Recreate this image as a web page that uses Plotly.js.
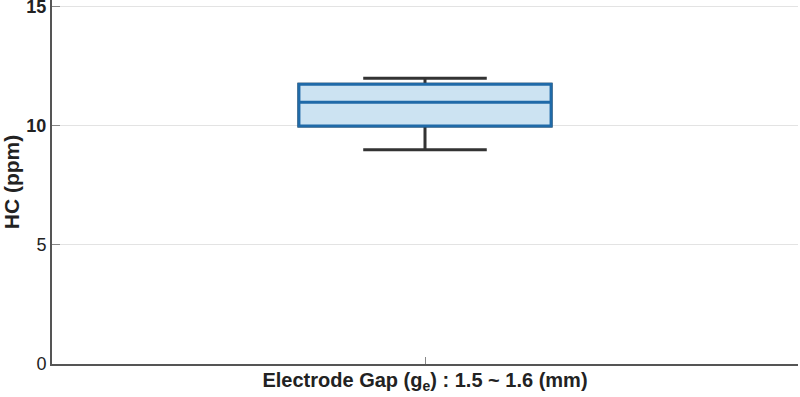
<!DOCTYPE html>
<html>
<head>
<meta charset="utf-8">
<script src="https://cdn.plot.ly/plotly-3.0.1.min.js"></script>
<style>html,body{margin:0;padding:0;background:#fff;}#chart{width:800px;height:397px;}</style>
</head>
<body>
<div id="chart"></div>
<script>
// Data
var category = ["1.5 ~ 1.6 mm"];
var lowerWhisker = [9];
var q1 = [10];
var median = [11];
var q3 = [11.75];
var upperWhisker = [12];
var yTickVals = [0, 5, 10, 15];
var yTickText = ["0", "5", "<b>10</b>", "<b>15</b>"];

var whiskers = {
  type: "box",
  x: [0],
  q1: q1, median: median, q3: q3,
  lowerfence: lowerWhisker, upperfence: upperWhisker,
  width: 0.338,
  whiskerwidth: 0.49,
  line: {color: "#333333", width: 3},
  fillcolor: "rgba(0,0,0,0)",
  hoverinfo: "skip",
  showlegend: false,
  name: category[0]
};
var boxBody = {
  type: "box",
  x: [0],
  q1: q1, median: median, q3: q3,
  lowerfence: q1, upperfence: q3,
  width: 0.338,
  whiskerwidth: 0,
  line: {color: "#1f6aa8", width: 3},
  fillcolor: "#cce3f2",
  showlegend: false,
  name: category[0]
};

var layout = {
  width: 800, height: 397,
  margin: {l: 52, r: 2, t: 0, b: 33},
  paper_bgcolor: "#ffffff",
  plot_bgcolor: "#ffffff",
  boxmode: "overlay",
  font: {family: "Liberation Sans, Arial, sans-serif", color: "#222222"},
  xaxis: {
    range: [-0.5, 0.5],
    tickvals: [0],
    showticklabels: false,
    ticks: "inside", ticklen: 7, tickcolor: "#888888", tickwidth: 1,
    showgrid: false, zeroline: false,
    showline: true, linecolor: "#555555", linewidth: 2,
    title: {text: "<b>Electrode Gap (g<sub>e</sub>) : 1.5 ~ 1.6 (mm)</b>", font: {size: 20, color: "#222222"}, standoff: 8}
  },
  yaxis: {
    range: [0, 15.29],
    tickvals: yTickVals,
    ticktext: yTickText,
    ticklabeloverflow: "allow",
    ticks: "inside", ticklen: 8, tickcolor: "#888888", tickwidth: 1,
    tickfont: {size: 18, color: "#222222"},
    showgrid: true, gridcolor: "#e3e3e3", gridwidth: 1,
    zeroline: false,
    showline: true, linecolor: "#555555", linewidth: 2,
    title: {text: "<b>HC (ppm)</b>", font: {size: 21, color: "#222222"}, standoff: 6}
  }
};

Plotly.newPlot("chart", [whiskers, boxBody], layout, {displayModeBar: false, staticPlot: true});
</script>
</body>
</html>
